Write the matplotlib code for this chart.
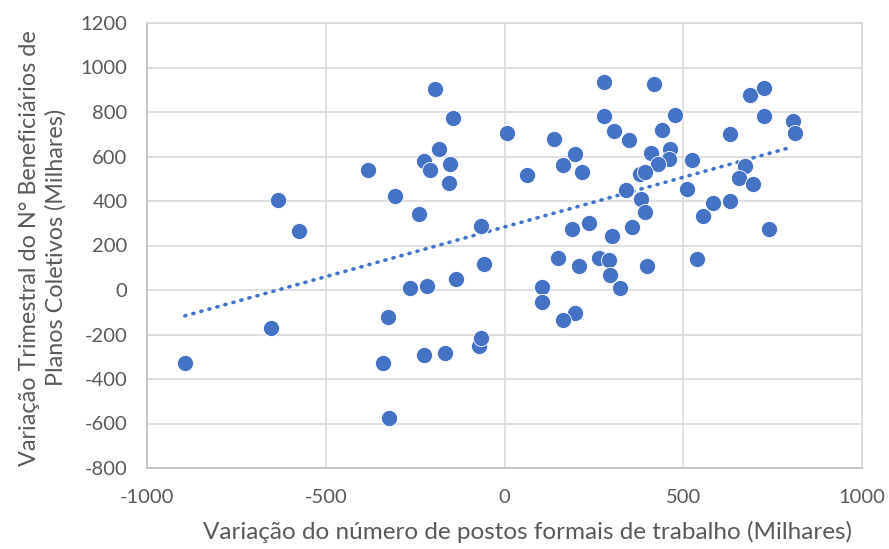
import numpy as np
import matplotlib
matplotlib.use("Agg")
import matplotlib.pyplot as plt

# variação de postos formais (milhares) e variação de beneficiários (milhares)
postos = [-195, -144, 7, -183, -225, -209, -153, -155, -383, -307, -239, -634, -576, -65,
          -894, -652, -325, -265, -218, -137, -58, -339, -226, -167, -70, -65, -322,
          278, 419, 277, 306, 347, 441, 477, 139, 198, 163, 217, 62, 409, 463, 460, 430,
          525, 379, 393, 339, 381, 393, 237, 189, 302, 356, 511, 555, 583, 632, 630, 672,
          657, 695, 739, 686, 725, 727, 806, 813,
          149, 209, 263, 291, 295, 398, 539, 104, 105, 323, 198, 164]
beneficiarios = [905, 773, 706, 635, 580, 538, 565, 481, 538, 424, 343, 403, 265, 287,
                 -329, -170, -122, 10, 16, 50, 115, -329, -290, -283, -251, -217, -575,
                 937, 928, 781, 715, 673, 721, 787, 680, 613, 562, 532, 517, 616, 635, 590, 568,
                 586, 523, 532, 451, 410, 352, 302, 275, 241, 283, 452, 331, 392, 400, 703, 556,
                 503, 478, 275, 875, 907, 781, 760, 707,
                 145, 106, 145, 133, 68, 107, 140, 13, -52, 8, -104, -134]

x_ticks = [-1000, -500, 0, 500, 1000]
y_ticks = [-800, -600, -400, -200, 0, 200, 400, 600, 800, 1000, 1200]

azul = "#4472C4"
cinza = "#595959"
plt.rcParams['font.family'] = ['Lato', 'DejaVu Sans']
plt.rcParams['axes.unicode_minus'] = False

fig = plt.figure(figsize=(8.89, 5.49), dpi=100)
ax = fig.add_axes([147/889, 1 - 468/549, 715/889, 445/549])

ax.scatter(postos, beneficiarios, s=135, color=azul, edgecolors="white", linewidths=0.6, zorder=3)

# linha de tendência linear
a, b = np.polyfit(postos, beneficiarios, 1)
xs = np.array([min(postos), max(postos) - 15])
ax.plot(xs, a * xs + b, color=azul, linewidth=2.6, linestyle=(0, (0.3, 2.0)),
        dash_capstyle="round", zorder=2)

ax.set_xlim(-1000, 1000)
ax.set_ylim(-800, 1200)
ax.set_xticks(x_ticks)
ax.set_yticks(y_ticks)
ax.grid(True, color="#D9D9D9", linewidth=1.2)
ax.set_axisbelow(True)
for s in ax.spines.values():
    s.set_color("#D9D9D9")
    s.set_linewidth(1.2)
ax.spines["left"].set_color("#BFBFBF")
ax.spines["bottom"].set_color("#BFBFBF")
ax.tick_params(length=0, labelsize=14.5, colors=cinza, pad=15)
ax.tick_params(axis="y", pad=14)

ax.set_xlabel("Variação do número de postos formais de trabalho (Milhares)",
              fontsize=17.5, color=cinza)
ax.xaxis.set_label_coords(0.532, -0.118)
ax.set_ylabel("Variação Trimestral do N° Beneficiários de\nPlanos Coletivos (Milhares)",
              fontsize=16.8, color=cinza, linespacing=1.3)
ax.yaxis.set_label_coords(-0.112, 0.495)

fig.savefig("out.png", dpi=100)
